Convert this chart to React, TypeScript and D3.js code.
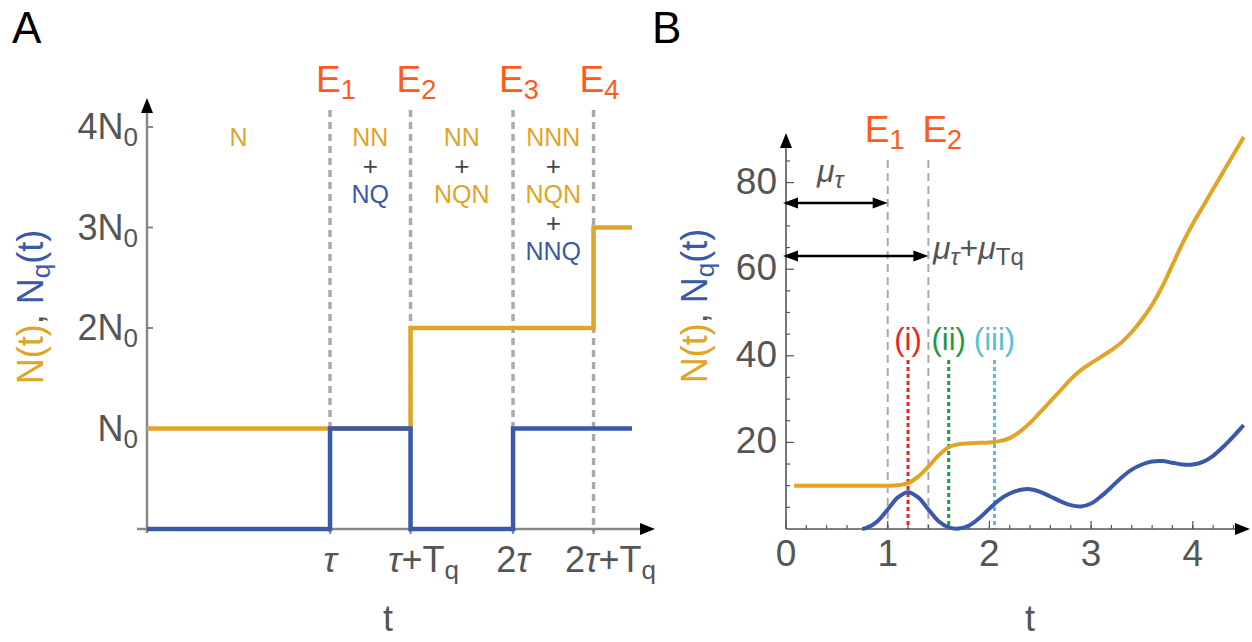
import React from 'react'
import * as d3 from 'd3'

// ---------- panel A : idealised step dynamics ----------
const tau = 1
const Tq = 0.44
const tEndA = 2.65

const stepTimesN = [0, tau + Tq, 2 * tau + Tq, tEndA]
const stepValuesN = [1, 2, 3, 3]
const stepTimesNq = [0, tau, tau + Tq, 2 * tau, tEndA]
const stepValuesNq = [0, 1, 0, 1, 1]

const yTicksA = [1, 2, 3, 4]
const yTickPrefixA = ['', '2', '3', '4']
const eventTimesA = [tau, tau + Tq, 2 * tau, 2 * tau + Tq]
const eventNamesA = ['1', '2', '3', '4']
const regionStarts = [0, tau, tau + Tq, 2 * tau]
const regionEnds = [tau, tau + Tq, 2 * tau, 2 * tau + Tq]
const regionWords = [['N'], ['NN', '+', 'NQ'], ['NN', '+', 'NQN'], ['NNN', '+', 'NQN', '+', 'NNQ']]
const regionKinds = [['n'], ['n', 'p', 'q'], ['n', 'p', 'n'], ['n', 'p', 'n', 'p', 'q']]

// ---------- panel B : simulated dynamics ----------
const tN = [0.08, 0.5, 1.0, 1.1, 1.2, 1.3, 1.4, 1.5, 1.6, 1.7, 1.8, 1.9, 2.0, 2.1, 2.2, 2.3, 2.4, 2.5, 2.6, 2.7, 2.8, 2.9, 3.0, 3.1, 3.2, 3.3, 3.4, 3.5, 3.6, 3.7, 3.8, 3.9, 4.0, 4.1, 4.2, 4.3, 4.4, 4.5]
const vN = [10, 10, 10, 10.1, 10.6, 12.1, 14.4, 17, 18.9, 19.6, 19.8, 19.9, 20, 20.3, 21, 22.5, 24.5, 27, 29.5, 32, 34.6, 36.7, 38.3, 39.8, 41.3, 43.1, 45.5, 48.4, 51.8, 56, 61, 66, 70.5, 74.5, 78.5, 82.5, 86.5, 90.5]
const tNq = [0.75, 0.8, 0.9, 1.0, 1.1, 1.2, 1.3, 1.4, 1.5, 1.6, 1.7, 1.8, 1.9, 2.0, 2.1, 2.2, 2.3, 2.4, 2.5, 2.6, 2.7, 2.8, 2.9, 3.0, 3.1, 3.2, 3.3, 3.4, 3.5, 3.6, 3.7, 3.8, 3.9, 4.0, 4.1, 4.2, 4.3, 4.4, 4.5]
const vNq = [0, 0.3, 1.8, 4.5, 7.3, 8.5, 7.3, 4.5, 1.8, 0.4, 0.1, 0.8, 2.5, 4.7, 6.8, 8.2, 9, 9.2, 8.6, 7.5, 6.4, 5.5, 5.2, 5.9, 7.6, 9.7, 11.9, 13.7, 14.9, 15.6, 15.7, 15.3, 14.9, 14.9, 15.5, 16.9, 19, 21.4, 24]

const yMajorB = [20, 40, 60, 80]
const yMinorB = d3.range(5, 90, 5)
const xMajorB = [0, 1, 2, 3, 4]
const xMinorB = d3.range(0.2, 4.5, 0.2)
const eventTimesB = [1, 1.4]
const eventNamesB = ['1', '2']
const markTimesB = [1.2, 1.6, 2.05]
const markNamesB = ['(i)', '(ii)', '(iii)']
const markColorsB = ['#E8261E', '#1F9A43', '#5BBFD2']

const YEL = '#DFA526'
const BLU = '#3A59A8'
const ORA = '#FF5A1A'
const TXT = '#555555'
const FONT = '"Liberation Sans", Arial, sans-serif'

type Seg = { t: string; sub?: boolean; it?: boolean; c?: string }

function Rich(props: { x?: number; y?: number; segs: Seg[]; fs: number; sfs: number; anchor?: string; fill?: string; transform?: string; dx?: number }) {
    const { x = 0, y = 0, segs, fs, sfs, anchor = 'start', fill = TXT, transform, dx = 0 } = props
    const shift = Math.round(fs * 0.2)
    let inSub = false
    return (
        <text x={x + dx} y={y} fontSize={fs} textAnchor={anchor} fill={fill} transform={transform}>
            {segs.map((s, i) => {
                let dy = 0
                if (s.sub && !inSub) dy = shift
                if (!s.sub && inSub) dy = -shift
                inSub = !!s.sub
                return (
                    <tspan key={i} dy={dy || undefined} fontSize={s.sub ? sfs : undefined}
                        fontStyle={s.it ? 'italic' : undefined} fill={s.c}>{s.t}</tspan>
                )
            })}
        </text>
    )
}

function arrowHead(x: number, y: number, dir: string, len = 15, w = 12) {
    if (dir === 'up') return `${x},${y} ${x - w / 2},${y + len} ${x + w / 2},${y + len}`
    if (dir === 'right') return `${x},${y} ${x - len},${y - w / 2} ${x - len},${y + w / 2}`
    return `${x},${y} ${x + len},${y - w / 2} ${x + len},${y + w / 2}`
}

function PanelA() {
    const x = d3.scaleLinear().domain([0, tEndA]).range([147, 632])
    const y = d3.scaleLinear().domain([0, 4]).range([529, 127])
    const step = d3.line<[number, number]>().x(d => x(d[0])).y(d => y(d[1])).curve(d3.curveStepAfter)
    const nPath = step(stepTimesN.map((t, i) => [t, stepValuesN[i]]))
    const qPath = step(stepTimesNq.map((t, i) => [t, stepValuesNq[i]]))
    const x0 = x(0)
    const xTickSegs: Seg[][] = [
        [{ t: 'τ', it: true }],
        [{ t: 'τ', it: true }, { t: '+T' }, { t: 'q', sub: true }],
        [{ t: '2' }, { t: 'τ', it: true }],
        [{ t: '2' }, { t: 'τ', it: true }, { t: '+T' }, { t: 'q', sub: true }],
    ]
    const xTickDx = [0, 13, 0, 17]
    const kindColor: any = { n: YEL, p: '#444', q: BLU }
    return (
        <g>
            <text x={12} y={43} fontSize={44} fill="#000">A</text>
            {/* event lines */}
            {eventTimesA.map((t, i) => (
                <g key={i}>
                    <line x1={x(t)} x2={x(t)} y1={110} y2={532} stroke="#AAAAAA" strokeWidth={3.5} strokeDasharray="7,5" />
                    <Rich x={x(t) - 14} y={92} fs={37} sfs={27} fill={ORA} segs={[{ t: 'E' }, { t: eventNamesA[i], sub: true }]} />
                </g>
            ))}
            {/* region labels */}
            {regionWords.map((words, i) => {
                const cx = (x(regionStarts[i]) + x(regionEnds[i])) / 2
                return words.map((w, j) => (
                    <text key={i + '-' + j} x={cx} y={137 + j * 28.5} dy="0.36em" textAnchor="middle"
                        fontSize={w === '+' ? 26 : 25} fill={kindColor[regionKinds[i][j]]}>{w}</text>
                ))
            })}
            {/* axes */}
            <line x1={137} x2={643} y1={529} y2={529} stroke="#888" strokeWidth={2.5} />
            <line x1={x0} x2={x0} y1={533} y2={110} stroke="#888" strokeWidth={2.5} />
            <polygon points={arrowHead(x0, 98, 'up')} fill="#000" />
            <polygon points={arrowHead(655, 529, 'right')} fill="#000" />
            {yTicksA.map(v => (
                <line key={v} x1={x0} x2={x0 + 6} y1={y(v)} y2={y(v)} stroke="#888" strokeWidth={2} />
            ))}
            {eventTimesA.map((t, i) => (
                <line key={i} x1={x(t)} x2={x(t)} y1={529} y2={534} stroke="#888" strokeWidth={2} />
            ))}
            {yTicksA.map((v, i) => (
                <Rich key={v} x={138} y={y(v) + 12} anchor="end" fs={36} sfs={26}
                    segs={[{ t: yTickPrefixA[i] + 'N' }, { t: '0', sub: true }]} />
            ))}
            {eventTimesA.map((t, i) => (
                <Rich key={i} x={x(t)} dx={xTickDx[i]} y={572} anchor="middle" fs={36} sfs={26} segs={xTickSegs[i]} />
            ))}
            {/* step curves */}
            <path d={nPath || ''} fill="none" stroke={YEL} strokeWidth={4.5} />
            <path d={qPath || ''} fill="none" stroke={BLU} strokeWidth={4.5} />
            <text x={388} y={631} fontSize={36} textAnchor="middle" fill={TXT}>t</text>
            <Rich transform="translate(43,307) rotate(-90)" anchor="middle" fs={36} sfs={26}
                segs={[{ t: 'N(t)', c: YEL }, { t: ', ', c: TXT }, { t: 'N', c: BLU }, { t: 'q', sub: true, c: BLU }, { t: '(t)', c: BLU }]} />
        </g>
    )
}

function PanelB() {
    const x = d3.scaleLinear().domain([0, 4.5]).range([786, 786 + 4.5 * 101.7])
    const y = d3.scaleLinear().domain([0, 90]).range([529, 529 - 90 * 4.33])
    const line = d3.line<[number, number]>().x(d => x(d[0])).y(d => y(d[1])).curve(d3.curveCatmullRom.alpha(0.5))
    const nPath = line(tN.map((t, i) => [t, vN[i]]))
    const qPath = line(tNq.map((t, i) => [t, vNq[i]]))
    const x0 = x(0)
    const y0 = y(0)
    const eventDx = [-23, -6]
    return (
        <g>
            <text x={652} y={43} fontSize={44} fill="#000">B</text>
            {eventTimesB.map((t, i) => (
                <g key={i}>
                    <line x1={x(t)} x2={x(t)} y1={160} y2={y0} stroke="#AAAAAA" strokeWidth={2} strokeDasharray="8,5" />
                    <Rich x={x(t) + eventDx[i]} y={142} fs={37} sfs={27} fill={ORA} segs={[{ t: 'E' }, { t: eventNamesB[i], sub: true }]} />
                </g>
            ))}
            {markTimesB.map((t, i) => (
                <g key={i}>
                    <line x1={x(t)} x2={x(t)} y1={360} y2={y0} stroke={markColorsB[i]} strokeWidth={3} strokeDasharray="4,3" />
                    <text x={x(t)} y={339} dy="0.36em" textAnchor="middle" fontSize={31} fill={markColorsB[i]}>{markNamesB[i]}</text>
                </g>
            ))}
            {/* axes */}
            <line x1={x0} x2={1238} y1={y0} y2={y0} stroke="#555" strokeWidth={1.6} />
            <line x1={x0} x2={x0} y1={y0} y2={145} stroke="#555" strokeWidth={1.6} />
            <polygon points={arrowHead(x0, 133, 'up')} fill="#000" />
            <polygon points={arrowHead(1250, y0, 'right')} fill="#000" />
            {yMinorB.map(v => (
                <line key={v} x1={x0} x2={x0 + (v % 20 === 0 ? 8 : 4)} y1={y(v)} y2={y(v)} stroke="#555" strokeWidth={1.2} />
            ))}
            {xMinorB.map(v => (
                <line key={v} x1={x(v)} x2={x(v)} y1={y0} y2={y0 - 4} stroke="#555" strokeWidth={1.2} />
            ))}
            {xMajorB.map(v => (
                <line key={'M' + v} x1={x(v)} x2={x(v)} y1={y0} y2={y0 - 8} stroke="#555" strokeWidth={1.2} />
            ))}
            {yMajorB.map(v => (
                <text key={v} x={777} y={y(v) + 11} textAnchor="end" fontSize={37} fill={TXT}>{v}</text>
            ))}
            {xMajorB.map(v => (
                <text key={v} x={x(v)} y={566} textAnchor="middle" fontSize={37} fill={TXT}>{v}</text>
            ))}
            {/* duration arrows */}
            <line x1={x0 + 10} x2={x(1) - 10} y1={203} y2={203} stroke="#000" strokeWidth={2.5} />
            <polygon points={arrowHead(x0 - 3, 203, 'left', 15, 11)} fill="#000" />
            <polygon points={arrowHead(x(1), 203, 'right', 15, 11)} fill="#000" />
            <line x1={x0 + 10} x2={x(1.4) - 10} y1={256} y2={256} stroke="#000" strokeWidth={2.5} />
            <polygon points={arrowHead(x0 - 3, 256, 'left', 15, 11)} fill="#000" />
            <polygon points={arrowHead(x(1.4), 256, 'right', 15, 11)} fill="#000" />
            <Rich x={817} y={182} fs={32} sfs={24} segs={[{ t: 'μ', it: true }, { t: 'τ', it: true, sub: true }]} />
            <Rich x={933} y={259} fs={32} sfs={24}
                segs={[{ t: 'μ', it: true }, { t: 'τ', it: true, sub: true }, { t: '+' }, { t: 'μ', it: true }, { t: 'T', sub: true }, { t: 'q', sub: true }]} />
            {/* curves */}
            <path d={nPath || ''} fill="none" stroke={YEL} strokeWidth={4} />
            <path d={qPath || ''} fill="none" stroke={BLU} strokeWidth={4} />
            <text x={1030} y={631} fontSize={36} textAnchor="middle" fill={TXT}>t</text>
            <Rich transform="translate(707,306) rotate(-90)" anchor="middle" fs={36} sfs={26}
                segs={[{ t: 'N(t)', c: YEL }, { t: ', ', c: TXT }, { t: 'N', c: BLU }, { t: 'q', sub: true, c: BLU }, { t: '(t)', c: BLU }]} />
        </g>
    )
}

export default function App() {
    return (
        <div style={{ position: 'absolute', left: 0, top: 0 }}>
            <svg width={1252} height={642} style={{ display: 'block', background: '#fff', fontFamily: FONT }}>
                <PanelA />
                <PanelB />
            </svg>
        </div>
    )
}
